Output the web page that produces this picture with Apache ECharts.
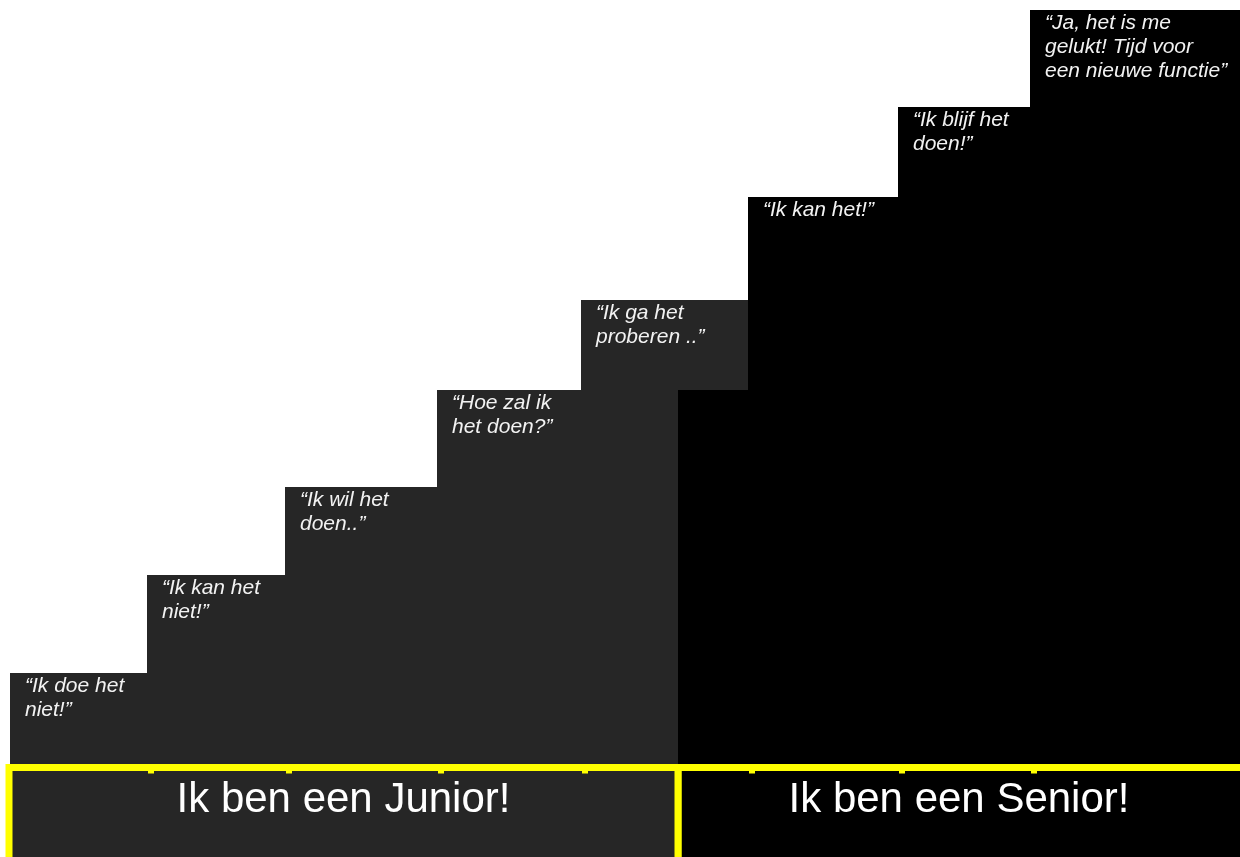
<!DOCTYPE html>
<html>
<head>
<meta charset="utf-8">
<script src="https://cdn.jsdelivr.net/npm/echarts@6/dist/echarts.min.js"></script>
<style>
html,body{margin:0;padding:0;background:#fff;}
#chart{width:1240px;height:857px;}
</style>
</head>
<body>
<div id="chart"></div>
<script>
// ---- data ----
const stepLabels = [
  '“Ik doe het\nniet!”',
  '“Ik kan het\nniet!”',
  '“Ik wil het\ndoen..”',
  '“Hoe zal ik\nhet doen?”',
  '“Ik ga het\nproberen ..”',
  '“Ik kan het!”',
  '“Ik blijf het\ndoen!”',
  '“Ja, het is me\ngelukt! Tijd voor\neen nieuwe functie”'
];
const stepEdges  = [0, 137, 275, 427, 571, 738, 888, 1020, 1240];
const stepLevels = [91, 189, 277, 374, 464, 567, 657, 754];
const stepStage  = [0, 0, 0, 0, 0, 1, 1, 1];
const stageNames = ['Ik ben een Junior!', 'Ik ben een Senior!'];
const stageEdges = [-1, 668, 1260];
const stageBlockLevel = [0, 374];

const GRAY = '#262626', BLACK = '#000000', YELLOW = '#ffff00';

const stepData = stepLabels.map((l, i) => [stepEdges[i], stepEdges[i + 1], stepLevels[i], stepStage[i], l]);
const stageData = stageNames.map((n, i) => [stageEdges[i], stageEdges[i + 1], stageBlockLevel[i], i, n]);

const chart = echarts.init(document.getElementById('chart'));
chart.setOption({
  animation: false,
  backgroundColor: '#ffffff',
  grid: { left: 10, right: 0, top: 0, bottom: 0 },
  xAxis: { type: 'value', min: 0, max: 1230, show: false },
  yAxis: { type: 'value', min: -93, max: 764, show: false },
  series: [
    { // junior steps (gray) drawn first
      type: 'custom', clip: false, z: 1,
      data: stepData.filter(d => d[3] === 0),
      renderItem: renderStep
    },
    { // senior background block
      type: 'custom', clip: false, z: 2,
      data: stageData.filter(d => d[2] > 0),
      renderItem: function (params, api) {
        const p0 = api.coord([api.value(0), 0]);
        const p1 = api.coord([api.value(1), api.value(2)]);
        return { type: 'rect', shape: { x: p0[0], y: p1[1], width: p1[0] - p0[0], height: p0[1] - p1[1] },
          style: { fill: BLACK } };
      }
    },
    { // senior steps (black)
      type: 'custom', clip: false, z: 3,
      data: stepData.filter(d => d[3] === 1),
      renderItem: renderStep
    },
    { // bottom stage boxes
      type: 'custom', clip: false, z: 4,
      data: stageData.slice().reverse(),
      renderItem: function (params, api) {
        const p0 = api.coord([api.value(0), 0]);
        const p1 = api.coord([api.value(1), -93]);
        const top = p0[1] + 3.5;
        const stage = api.value(3);
        const fill = stage === 0 ? GRAY : BLACK;
        const children = [
          { type: 'rect', shape: { x: p0[0], y: top, width: p1[0] - p0[0], height: p1[1] - top + 10 },
            style: { fill: fill, stroke: YELLOW, lineWidth: 7 } },
          { type: 'text', x: (p0[0] + Math.min(p1[0], 1240)) / 2, y: top + 33,
            style: { text: stageNames[stage], fill: '#ffffff', font: '42px "Liberation Sans", Arial, sans-serif',
              align: 'center', verticalAlign: 'middle' } }
        ];
        // small tick bumps at step edges
        stepData.forEach(d => {
          if (d[3] === stage && d[0] > 0) {
            const c = api.coord([d[0], 0]);
            children.push({ type: 'rect', shape: { x: c[0] + 1, y: top + 3, width: 6, height: 3 }, style: { fill: YELLOW } });
          }
        });
        return { type: 'group', children: children };
      }
    }
  ]
});

function renderStep(params, api) {
  const p0 = api.coord([api.value(0), 0]);
  const p1 = api.coord([api.value(1), api.value(2)]);
  const fill = api.value(3) === 0 ? GRAY : BLACK;
  const label = stepLabels[stepEdges.indexOf(api.value(0))];
  return {
    type: 'group',
    children: [
      { type: 'rect', shape: { x: p0[0], y: p1[1], width: p1[0] - p0[0], height: p0[1] - p1[1] },
        style: { fill: fill } },
      { type: 'text', x: p0[0] + 15, y: p1[1] + 1,
        style: { text: label, fill: '#f2f2f2', font: 'italic 21px "Liberation Sans", Arial, sans-serif',
          lineHeight: 24, align: 'left', verticalAlign: 'top' } }
    ]
  };
}
</script>
</body>
</html>
